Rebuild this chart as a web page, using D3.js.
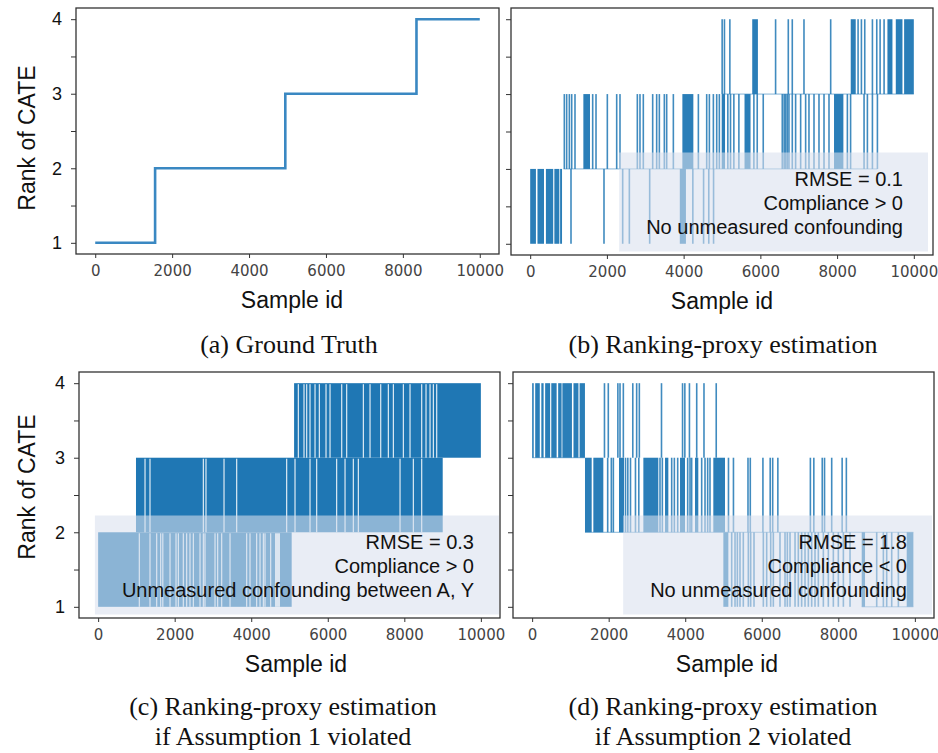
<html>
<head>
    <script src="https://d3js.org/d3.v7.min.js" charset="utf-8"></script>
    <style>
        body { margin: 0; background: #fff; }
    </style>
</head>
<body>
<script type="text/javascript">
    var width = 938;
    var height = 753;

    // ---- data (sample id, rank) ----
    var xTicks = [0, 2000, 4000, 6000, 8000, 10000];
    var yTicks = [1, 1.5, 2, 2.5, 3, 3.5, 4];

    // (a) ground truth step line
    var truthSteps = [[0, 1], [1557, 2], [4943, 3], [8354, 4], [10000, 4]];

    // (b) spikes: a number is one vertical stroke, a pair is a dense block
    var bSpikes12 = [[0, 150], [190, 360], [410, 600], [630, 760], [780, 830], 1064, 1924, 2411, 2585, 3115,
        [3900, 4060], 4240, 4520, 4655, 4780];
    var bSpikes23 = [890, 951, 1021, 1082, 1168, [1386, 1559], 1629, 1716, 2011, 2255, 2341, 2793, 2862, 2949,
        3193, 3297, 3367, 3497, 3558, 3732, [3967, 4253], 4384, 4601, 4671, 4775, 4862, 4931, [4992, 5079], 5152,
        5222, 5309, 5440, [5587, 5744], 5831, 5918, 6075, 6571, 6620, 6658, 6700, 6745, 6832, 6919, 7050, 7180,
        7267, 7398, 7528, 7659, 7789, [7920, 8164], 8268, 8352, 8703, 8790, 8921, 9051];
    var bSpikes34 = [5004, 5064, 5205, [5788, 5936], 6397, 6728, 6832, 7137, 7833, [8355, 8486], 8547, 8634,
        8721, 8921, 9034, 9121, 9225, [9312, 9443], [9530, 9704], [9747, 10000]];
    var bFlats = [[2, 870, 9051], [3, 5004, 10000]];

    // (c) solid bands with thin white gaps
    var cGaps12 = [1076, 1355, 1530, 1634, 1690, 1878, 2035, 2096, 2226, 2313, 2400, 2488, 2662, 2749, 2792,
        3054, 3123, 3228, 3446, 3881, 3968, 4142, 4230, 4317, 4360, 4508, [4621, 4752]];
    var cGaps23 = [1225, 1355, 2749, 2818, 3289, 3620, 4926, 5144, 5536, 5710, 6232, 6451, 6668, 6799, 7888,
        8236, 8454];
    var cGaps34 = [5231, 5379, 5449, 5536, 5667, 5780, 5954, 6059, 6364, 6494, 6930, 7104, 7383, 7583, 7714,
        7975, 8149, 8454, 8567, 8672, 8759, 8846];
    var cExtents = [[1, 2, 0, 5057], [2, 3, 989, 9003], [3, 4, 5120, 10000]];

    // (d) spikes
    var dSpikes34 = [[0, 40], [80, 200], [240, 300], [340, 470], [500, 640], [680, 770], [790, 1040],
        [1080, 1210], [1240, 1380], 1890, 1990, 2240, 2296, 2383, 2630, 2731, 2801, 3380, 3930, 3990, 4110,
        4300, 4490, 4810];
    var dSpikes23 = [[1381, 1556], [1599, 1860], 1974, 2069, 2122, [2270, 2400], 2440, 2500, 2570, 2700, 2787,
        [2906, 3297], 3341, 3402, [3472, 3559], 3646, 3716, 3803, [3864, 3994], 4064, 4125, 4168, [4255, 4342],
        4430, 4517, 4586, 4647, [4734, 5039], 5130, 5260, 5640, 5700, 6030, 6220, 6285, 6420, 7270, 7360, 7580,
        7640, 7827, 8100, 8210];
    var dSpikes12 = [[4996, 5127], 5214, 5301, 5362, 5431, 5518, 5649, 5710, 5797, 6041, 6128, 6233, 6302, 6476,
        6607, 6668, 6738, 6869, 6955, 7042, 7130, 7217, 7304, 7391, 7478, 7609, 7739, 7870, 8000, 8132, 8306,
        [8611, 8698], 9003, 9177, 9264, 9395, 9569, [9787, 9961]];
    var dFlats = [[3, 0, 1380], [2, 1381, 9961], [1, 8611, 9961]];

    var legendB = ["RMSE = 0.1", "Compliance > 0", "No unmeasured confounding"];
    var legendC = ["RMSE = 0.3", "Compliance > 0", "Unmeasured confounding between A, Y"];
    var legendD = ["RMSE = 1.8", "Compliance < 0", "No unmeasured confounding"];

    var captionA = ["(a) Ground Truth"];
    var captionB = ["(b) Ranking-proxy estimation"];
    var captionC = ["(c) Ranking-proxy estimation", "if Assumption 1 violated"];
    var captionD = ["(d) Ranking-proxy estimation", "if Assumption 2 violated"];

    // ---- layout ----
    var blue = "#1f77b4";

    var panels = [
        { frame: { x0: 76, x1: 499, y0: 8, y1: 254 }, yLabel: 138, labelX: 292, caption: captionA, capX: 289 },
        { frame: { x0: 511, x1: 933, y0: 8, y1: 255 }, labelX: 722, caption: captionB, capX: 723,
            spikes: [[1, 2, bSpikes12], [2, 3, bSpikes23], [3, 4, bSpikes34]], flats: bFlats,
            legend: legendB, legendRight: 30 },
        { frame: { x0: 79, x1: 500, y0: 372, y1: 618 }, yLabel: 487, labelX: 296, caption: captionC, capX: 283,
            solid: [cGaps12, cGaps23, cGaps34], legend: legendC, legendRight: 26 },
        { frame: { x0: 513, x1: 934, y0: 372, y1: 618 }, labelX: 727, caption: captionD, capX: 723,
            spikes: [[1, 2, dSpikes12], [2, 3, dSpikes23], [3, 4, dSpikes34]], flats: dFlats,
            legend: legendD, legendRight: 27 }
    ];

    const svg = d3.select("body").append("svg")
        .attr("width", width)
        .attr("height", height);

    panels.forEach(function(p, pi) {
        var f = p.frame;
        var x = d3.scaleLinear([-500, 10500], [f.x0, f.x1]);
        var y = d3.scaleLinear([0.85, 4.15], [f.y1, f.y0]);
        var g = svg.append("g").attr("class", "panel-" + pi);

        if (pi === 0) {
            var line = d3.line()
                .x(d => x(d[0]))
                .y(d => y(d[1]))
                .curve(d3.curveStepAfter);
            g.append("path")
                .datum(truthSteps)
                .attr("fill", "none")
                .attr("stroke", "#3a88c2")
                .attr("stroke-width", 2.6)
                .attr("d", line);
        }

        // thin horizontal runs where the estimate stays flat
        if (p.flats) {
            g.selectAll("line.flat")
                .data(p.flats)
                .join("line")
                    .attr("class", "flat")
                    .attr("x1", d => x(d[1]))
                    .attr("x2", d => x(d[2]))
                    .attr("y1", d => y(d[0]))
                    .attr("y2", d => y(d[0]))
                    .attr("stroke", blue)
                    .attr("stroke-opacity", 0.55)
                    .attr("stroke-width", 1);
        }

        if (p.spikes) {
            p.spikes.forEach(function(band) {
                var lo = band[0], hi = band[1];
                g.append("g").selectAll("rect")
                    .data(band[2])
                    .join("rect")
                        .attr("x", d => Array.isArray(d) ? x(d[0]) : x(d) - 0.8)
                        .attr("width", d => Array.isArray(d) ? Math.max(1.6, x(d[1]) - x(d[0])) : 1.6)
                        .attr("y", y(hi))
                        .attr("height", y(lo) - y(hi))
                        .attr("fill", blue)
                        .attr("fill-opacity", d => Array.isArray(d) ? 0.95 : 0.85);
            });
        }

        if (p.solid) {
            p.solid.forEach(function(gaps, bi) {
                var ext = cExtents[bi];
                var lo = ext[0], hi = ext[1];
                var bg = g.append("g");
                bg.append("rect")
                    .attr("x", x(ext[2]))
                    .attr("width", x(ext[3]) - x(ext[2]))
                    .attr("y", y(hi))
                    .attr("height", y(lo) - y(hi))
                    .attr("fill", blue);
                bg.selectAll("rect.gap")
                    .data(gaps)
                    .join("rect")
                        .attr("class", "gap")
                        .attr("x", d => Array.isArray(d) ? x(d[0]) : x(d) - 0.6)
                        .attr("width", d => Array.isArray(d) ? x(d[1]) - x(d[0]) : 1.2)
                        .attr("y", y(hi) + 1)
                        .attr("height", y(lo) - y(hi) - 1)
                        .attr("fill", "#fff")
                        .attr("fill-opacity", 0.85);
            });
        }

        // frame
        g.append("rect")
            .attr("x", f.x0)
            .attr("y", f.y0)
            .attr("width", f.x1 - f.x0)
            .attr("height", f.y1 - f.y0)
            .attr("fill", "none")
            .attr("stroke", "#333")
            .attr("stroke-width", 1.3);

        // axes
        var xAxis = d3.axisBottom(x)
            .tickValues(xTicks)
            .tickSize(4)
            .tickPadding(7)
            .tickFormat(d3.format("d"));
        var gx = g.append("g")
            .attr("transform", `translate(0, ${f.y1})`)
            .call(xAxis);
        gx.select(".domain").remove();
        gx.selectAll("line").attr("stroke", "#333");
        gx.selectAll("text")
            .style("font-family", "DejaVu Sans")
            .style("font-size", "15px")
            .attr("fill", "#444");

        var yAxis = d3.axisLeft(y)
            .tickValues(yTicks)
            .tickSize(5)
            .tickPadding(9)
            .tickFormat(d => (pi % 2 === 0 && Number.isInteger(d)) ? d : "");
        var gy = g.append("g")
            .attr("transform", `translate(${f.x0}, 0)`)
            .call(yAxis);
        gy.select(".domain").remove();
        gy.selectAll("line").attr("stroke", "#333");
        gy.selectAll("text")
            .style("font-family", "Liberation Sans, Arial")
            .style("font-size", "18px")
            .attr("fill", "#111");

        // axis titles
        g.append("text")
            .attr("x", p.labelX)
            .attr("y", f.y1 + 54)
            .attr("text-anchor", "middle")
            .style("font-family", "Liberation Sans, Arial")
            .style("font-size", "23px")
            .attr("fill", "#111")
            .text("Sample id");

        if (p.yLabel) {
            g.append("text")
                .attr("transform", `translate(35, ${p.yLabel}) rotate(-90)`)
                .attr("text-anchor", "middle")
                .style("font-family", "Liberation Sans, Arial")
                .style("font-size", "23px")
                .attr("fill", "#111")
                .text("Rank of CATE");
        }

        // annotation box
        if (p.legend) {
            var lg = g.append("g");
            var box = lg.append("rect");
            var tx = f.x1 - p.legendRight;
            var texts = lg.selectAll("text")
                .data(p.legend)
                .join("text")
                    .attr("x", tx)
                    .attr("y", (d, i) => f.y1 - 21.5 - (p.legend.length - 1 - i) * 24)
                    .attr("text-anchor", "end")
                    .style("font-family", "Liberation Sans, Arial")
                    .style("font-size", "20px")
                    .attr("fill", "#111")
                    .text(d => d);
            var bb = lg.node().getBBox();
            box.attr("x", bb.x - 27)
                .attr("y", bb.y - 15)
                .attr("width", bb.width + 52)
                .attr("height", bb.height + 29)
                .attr("fill", "rgb(217,224,238)")
                .attr("fill-opacity", 0.58);
        }

        // caption
        svg.append("g").selectAll("text")
            .data(p.caption)
            .join("text")
                .attr("x", p.capX)
                .attr("y", (d, i) => (pi < 2 ? 353 : 715) + i * 30)
                .attr("text-anchor", "middle")
                .style("font-family", "Liberation Serif, Times New Roman")
                .style("font-size", "26px")
                .attr("fill", "#111")
                .text(d => d);
    });
</script>
</body>
</html>
